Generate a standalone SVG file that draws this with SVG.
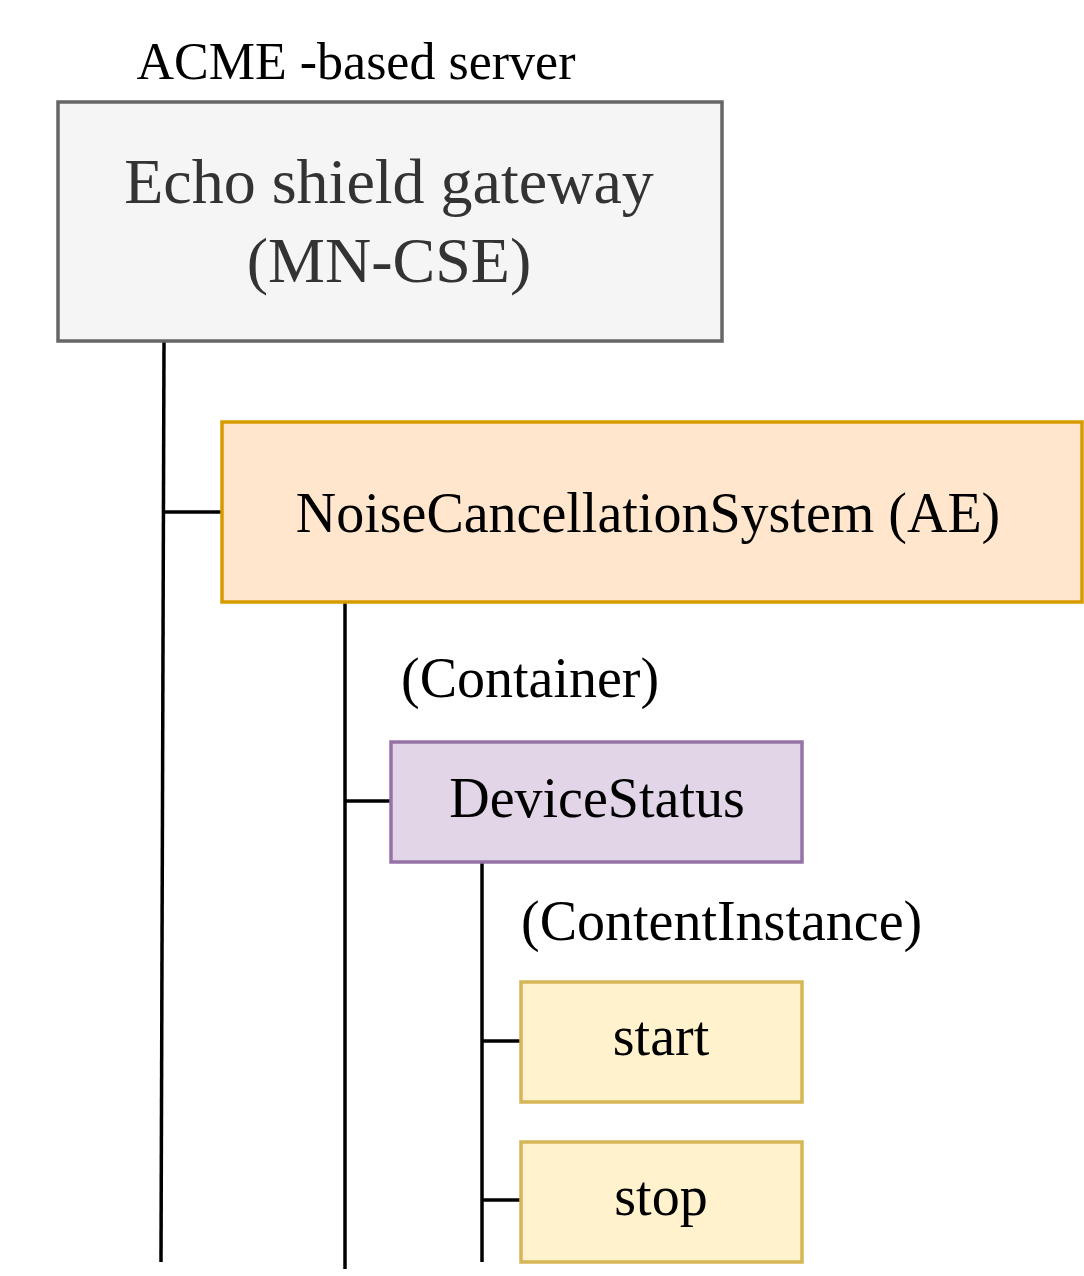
<svg xmlns="http://www.w3.org/2000/svg" width="1084" height="1276" viewBox="0 0 1084 1276">
<style>
  text { font-family: "Liberation Serif", "Times New Roman", serif; fill: #000; }
  .box { stroke-width: 3.5; }
  .gw { fill: #f5f5f5; stroke: #666666; }
  .ae { fill: #ffe6cc; stroke: #d79b00; }
  .cnt { fill: #e1d5e7; stroke: #9673a6; }
  .ci { fill: #fff2cc; stroke: #d6b656; }
  .conn line { stroke: #000; stroke-width: 3.5; fill: none; }
</style>
<rect width="1084" height="1276" fill="#ffffff"/>
<g id="connectors" class="conn">
  <line x1="164" y1="341" x2="161" y2="1262"/>
  <line x1="163" y1="512" x2="222" y2="512"/>
  <line x1="345" y1="602" x2="345" y2="1269"/>
  <line x1="345" y1="801" x2="391" y2="801"/>
  <line x1="482" y1="862" x2="482" y2="1262"/>
  <line x1="482" y1="1041" x2="521" y2="1041"/>
  <line x1="482" y1="1200" x2="521" y2="1200"/>
</g>
<g id="label-acme">
  <text x="356" y="79" font-size="52" text-anchor="middle" fill="#1a1a1a">ACME -based server</text>
</g>
<g id="gateway">
  <rect class="box gw" x="58" y="102" width="664" height="239"/>
  <text x="389" y="203" font-size="64" text-anchor="middle" style="fill:#333333">Echo shield gateway</text>
  <text x="389" y="282" font-size="64" text-anchor="middle" style="fill:#333333">(MN-CSE)</text>
</g>
<g id="ae">
  <rect class="box ae" x="222" y="422" width="860" height="180"/>
  <text x="648" y="532" font-size="56" text-anchor="middle">NoiseCancellationSystem (AE)</text>
</g>
<g id="label-container">
  <text x="401" y="697" font-size="56">(Container)</text>
</g>
<g id="devicestatus">
  <rect class="box cnt" x="391" y="742" width="411" height="120"/>
  <text x="597" y="817" font-size="56" text-anchor="middle">DeviceStatus</text>
</g>
<g id="label-contentinstance">
  <text x="521" y="940" font-size="56">(ContentInstance)</text>
</g>
<g id="start">
  <rect class="box ci" x="521" y="982" width="281" height="120"/>
  <text x="661" y="1055" font-size="56" text-anchor="middle">start</text>
</g>
<g id="stop">
  <rect class="box ci" x="521" y="1142" width="281" height="120"/>
  <text x="661" y="1215" font-size="56" text-anchor="middle">stop</text>
</g>
</svg>
